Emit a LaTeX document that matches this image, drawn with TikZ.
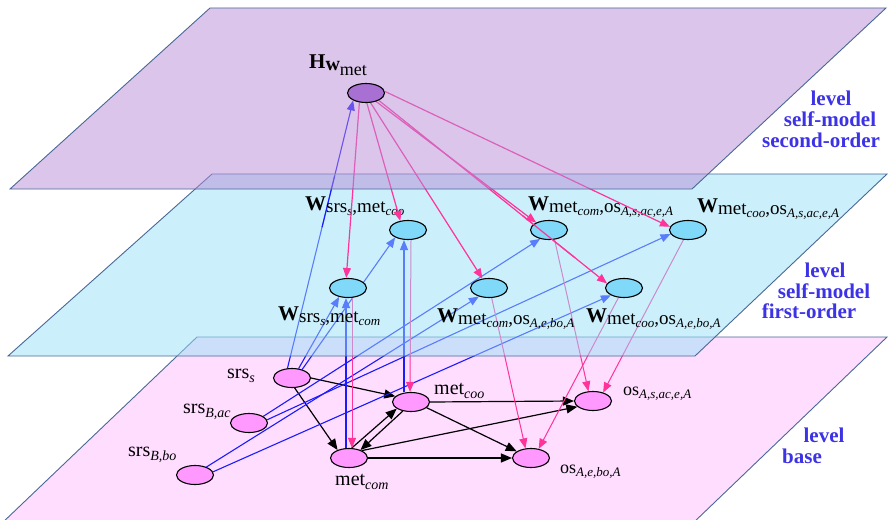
\documentclass[tikz,border=0pt]{standalone}
\usepackage{fontspec}
\setmainfont{Liberation Serif}
\usetikzlibrary{shapes.geometric,arrows.meta,calc}
\definecolor{purplePlane}{HTML}{B98DD9}
\definecolor{cyanPlane}{HTML}{99E1F9}
\definecolor{pinkPlane}{HTML}{FFDDFF}
\definecolor{planeEdge}{HTML}{4A6896}
\definecolor{pinkArrow}{HTML}{FF3399}
\definecolor{blueArrow}{HTML}{1A1AFF}
\definecolor{levelBlue}{HTML}{3C32E6}
\definecolor{wFill}{HTML}{80D9F8}
\definecolor{hFill}{HTML}{A870D2}
\definecolor{bFill}{HTML}{FF99FF}
\newcommand\sbs[1]{\raisebox{-3pt}{\fontsize{13}{13}\selectfont\itshape #1}}
\newcommand\bsub[1]{\raisebox{-4pt}{\fontsize{14}{14}\selectfont\itshape #1}}
\newcommand\Wlab[1]{{\fontsize{21}{21}\selectfont\bfseries W}\raisebox{-2.5pt}{\fontsize{19}{19}\selectfont #1}}
\pgfdeclarelayer{pinkL}
\pgfdeclarelayer{lowL}
\pgfdeclarelayer{cyanL}
\pgfdeclarelayer{midL}
\pgfdeclarelayer{purpL}
\pgfsetlayers{pinkL,lowL,cyanL,midL,purpL,main}
\begin{document}
\begin{tikzpicture}[x=1pt,y=-1pt,
  plane/.style={draw=planeEdge, line width=0.9pt, line join=miter},
  ell/.style={ellipse, draw=black, line width=1.1pt, minimum width=37pt, minimum height=19pt, inner sep=0pt},
  bnode/.style={ell, fill=bFill},
  wnode/.style={ell, fill=wFill},
  hnode/.style={ell, fill=hFill},
  blk/.style={black, -{Triangle[length=11pt,width=9pt]}, line width=1.2pt},
  pk/.style={pinkArrow, -{Triangle[length=10pt,width=8pt]}, line width=1.2pt},
  pkthin/.style={pinkArrow, -{Triangle[length=10pt,width=8pt]}, line width=1pt},
  bl/.style={blueArrow, -{Triangle[length=10pt,width=8pt]}, line width=1.1pt},
  lvl/.style={levelBlue, font=\fontsize{21}{21}\selectfont\bfseries, anchor=base, inner sep=0pt},
  lab/.style={anchor=base west, inner sep=0pt},
]
\useasboundingbox (0,0) rectangle (888,519);

% ---------- nodes (main layer, on top) ----------
\node[hnode] (H) at (366,93) {};
\node[wnode] (W1) at (408,230) {};
\node[wnode] (W2) at (348,288) {};
\node[wnode] (W3) at (549,230) {};
\node[wnode] (W4) at (489,288) {};
\node[wnode] (W5) at (624,288) {};
\node[wnode] (W6) at (688,230) {};
\node[bnode] (srss) at (292,378) {};
\node[bnode] (srsBac) at (249,423) {};
\node[bnode] (srsBbo) at (195,475) {};
\node[bnode] (metcoo) at (411,402) {};
\node[bnode] (metcom) at (349,458) {};
\node[bnode] (ossac) at (593,401) {};
\node[bnode] (osebo) at (531,458) {};

% the pink line to W5 passes over the W3 node
\draw[pinkArrow, line width=1.2pt] ($(H.330)!0.63!(W5.165)$) -- ($(H.330)!0.86!(W5.165)$);

% labels
\node[lab] (lh) at (309,68) {{\fontsize{21}{21}\selectfont\bfseries H}\raisebox{-2pt}{\fontsize{20}{20}\selectfont\bfseries w}\raisebox{-7pt}{\fontsize{18}{18}\selectfont met}};
\node[lab] (lsrss) at (227,378) {\fontsize{20}{20}\selectfont srs\bsub{s}};
\node[lab] (lsrsBac) at (183,413) {\fontsize{20}{20}\selectfont srs\bsub{B,ac}};
\node[lab] (lsrsBbo) at (128,456) {\fontsize{20}{20}\selectfont srs\bsub{B,bo}};
\node[lab] (lmetcoo) at (434,394) {\fontsize{20}{20}\selectfont met\bsub{coo}};
\node[lab] (lmetcom) at (335,485) {\fontsize{20}{20}\selectfont met\bsub{com}};
\node[lab] (lossac) at (623,395) {\fontsize{18}{18}\selectfont os\raisebox{-3pt}{\fontsize{13}{13}\selectfont\itshape A,s,ac,e,A}};
\node[lab] (losebo) at (560,473) {\fontsize{18}{18}\selectfont os\raisebox{-3pt}{\fontsize{13}{13}\selectfont\itshape A,e,bo,A}};

\node[lvl] (t1a) at (831,105) {level};
\node[lvl] (t1b) at (830,126) {self-model};
\node[lvl] (t1c) at (821,147) {second-order};
\node[lvl] (t2a) at (825,277) {level};
\node[lvl] (t2b) at (824,298) {self-model};
\node[lvl] (t2c) at (809,318) {first-order};
\node[lvl] (t3a) at (824,442) {level};
\node[lvl] (t3b) at (802,463) {base};

% ---------- base plane ----------
\begin{pgfonlayer}{pinkL}
  \fill[white] (0,0) rectangle (888,519);
  \fill[pinkPlane] (197,337) -- (887,337) -- (691,525) -- (0,525) -- cycle;
  \draw[plane] (197,337) -- (887,337) -- (691,525) -- (0,525) -- cycle;
\end{pgfonlayer}

% ---------- lines under the cyan plane ----------
\begin{pgfonlayer}{lowL}
  % black base arrows
  \draw[blk] (srss.east) -- (metcoo.160);
  \draw[blk] (srss.285) -- (metcom.145);
  \draw[blk] (metcoo.east) -- (ossac.west);
  \draw[blk] (metcoo.340) -- (osebo.155);
  \draw[blk] (metcom.east) -- (osebo.west);
  \draw[blk] (metcom.30) -- (ossac.200);
  \draw[blk] (metcom.75) -- (metcoo.205);
  \draw[blk] (metcoo.228) -- (metcom.35);
  % blue upward arrows
  \draw[bl] (srss.115) -- (H.210);
  \draw[bl] (srss.55) -- (W2.225);
  \draw[bl] (srss.40) -- (W1.210);
  \draw[bl] ([xshift=-3pt]metcom.north) -- ([xshift=-2pt]W2.south);
  \draw[bl] ([xshift=-7pt]metcoo.north) -- ([xshift=-4pt]W1.south);
  \draw[bl] (srsBac.25) -- (W3.225);
  \draw[bl] (srsBac.10) -- (W6.193);
  \draw[bl] (srsBbo.35) -- (W4.220);
  \draw[bl] (srsBbo.10) -- (W5.209);
  % pink downward arrows
  \draw[pkthin] ([xshift=4pt]W2.south) -- ([xshift=3pt]metcom.north);
  \draw[pkthin] ([xshift=3pt]W1.south) -- ([xshift=-1pt]metcoo.north);
  \draw[pkthin] (W3.300) -- (ossac.115);
  \draw[pkthin] (W6.245) -- (ossac.40);
  \draw[pkthin] (W4.285) -- (osebo.120);
  \draw[pkthin] (W5.240) -- (osebo.50);
\end{pgfonlayer}

% ---------- first-order plane ----------
\begin{pgfonlayer}{cyanL}
  \fill[cyanPlane, fill opacity=0.5] (212,174) -- (887,174) -- (695,356) -- (8,356) -- cycle;
  \draw[plane] (212,174) -- (887,174) -- (695,356) -- (8,356) -- cycle;
\end{pgfonlayer}

% ---------- labels and arrows above the cyan plane ----------
\begin{pgfonlayer}{midL}
  \draw[blueArrow, line width=1.1pt] ($(srss.115)!0.526!(H.210)$) -- ($(srss.115)!0.72!(H.210)$);
  \node[lab] (lw1) at (305,210) {\Wlab{srs\sbs{s},met\sbs{coo}}};
  \node[lab] (lw2) at (278,320) {\Wlab{srs\sbs{s},met\sbs{com}}};
  \node[lab] (lw3) at (528,210) {\Wlab{met\sbs{com},os\sbs{A,s,ac,e,A}}};
  \node[lab] (lw4) at (437,322) {\Wlab{met\sbs{com},os\sbs{A,e,bo,A}}};
  \node[lab] (lw5) at (586,322) {\Wlab{met\sbs{coo},os\sbs{A,e,bo,A}}};
  \node[lab] (lw6) at (697,212) {\Wlab{met\sbs{coo},os\sbs{A,s,ac,e,A}}};
  \draw[pk] (H.235) -- (W2.100);
  \draw[pk] (H.275) -- (W1.130);
  \draw[pk] (H.295) -- (W4.125);
  \draw[pk] (H.320) -- (W3.150);
  \draw[pk] (H.330) -- (W5.165);
  \draw[pk] (H.5) -- (W6.170);
\end{pgfonlayer}

% ---------- second-order plane ----------
\begin{pgfonlayer}{purpL}
  \fill[purplePlane, fill opacity=0.5] (210,8) -- (886,8) -- (692,189) -- (10,189) -- cycle;
  \draw[plane] (210,8) -- (886,8) -- (692,189) -- (10,189) -- cycle;
\end{pgfonlayer}
\end{tikzpicture}
\end{document}
